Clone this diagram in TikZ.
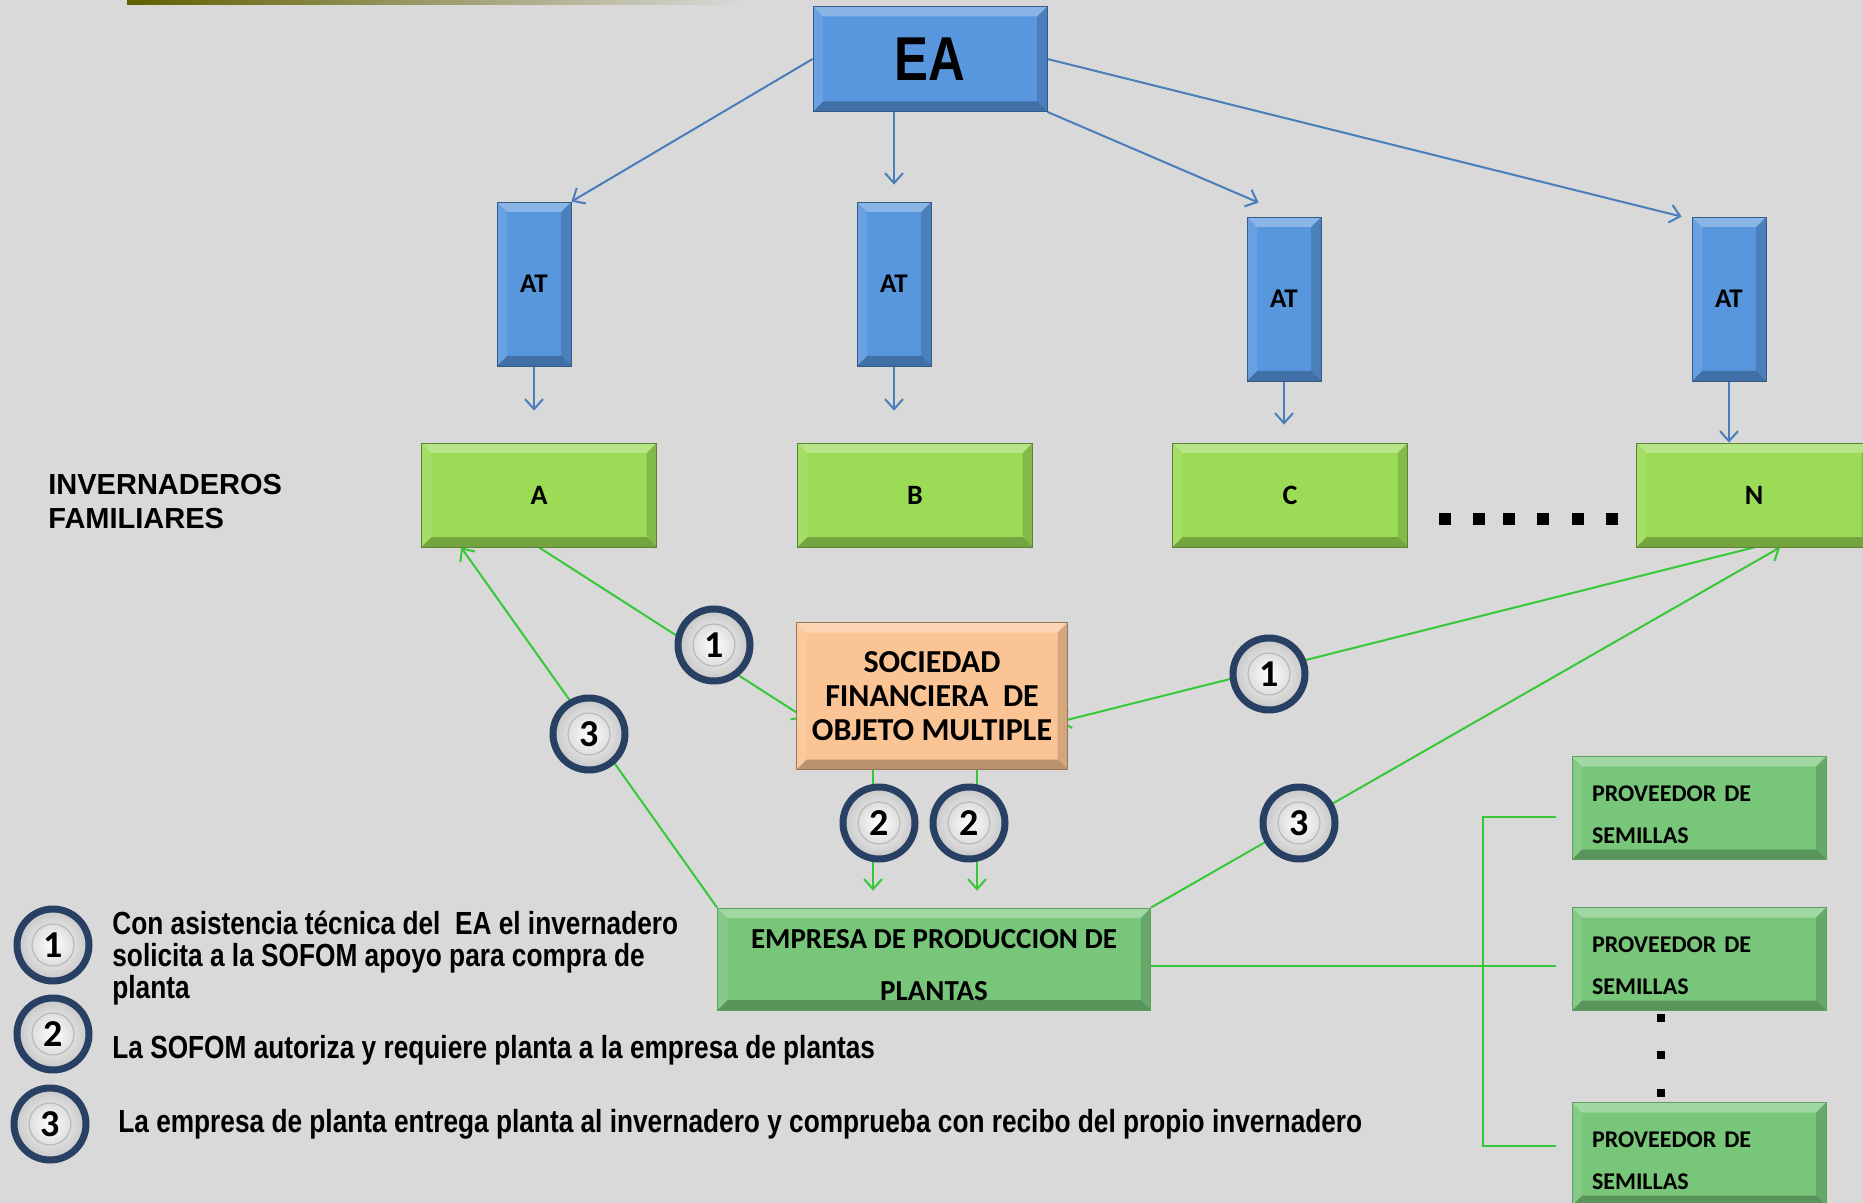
\documentclass[tikz,border=0pt]{standalone}
\usepackage{fontspec}
\setmainfont{Carlito}
\newfontfamily\arialfont{Liberation Sans}
\newfontfamily\narrowfont[FakeStretch=0.82]{Liberation Sans}
\usetikzlibrary{arrows.meta,calc}
\definecolor{bgcol}{RGB}{217,217,217}
\definecolor{eablue}{RGB}{88,150,222}
\definecolor{lineblue}{RGB}{74,126,187}
\definecolor{limegreen}{RGB}{155,219,86}
\definecolor{leafgreen}{RGB}{120,198,122}
\definecolor{peach}{RGB}{250,196,148}
\definecolor{wiregreen}{RGB}{55,200,55}
\definecolor{ringblue}{RGB}{40,64,100}
\definecolor{olivebar}{RGB}{96,96,0}
\pgfdeclarelayer{bg}
\pgfdeclarelayer{wires}
\pgfsetlayers{bg,wires,main}
\tikzset{
  bevel/.style={path picture={
    \fill[white,opacity=.3] (path picture bounding box.north west) -- (path picture bounding box.north east) -- ([shift={(-5pt,-5pt)}]path picture bounding box.north east) -- ([shift={(5pt,-5pt)}]path picture bounding box.north west) -- cycle;
    \fill[black,opacity=.25] (path picture bounding box.south west) -- (path picture bounding box.south east) -- ([shift={(-5pt,5pt)}]path picture bounding box.south east) -- ([shift={(5pt,5pt)}]path picture bounding box.south west) -- cycle;
    \fill[black,opacity=.15] (path picture bounding box.north east) -- (path picture bounding box.south east) -- ([shift={(-5pt,5pt)}]path picture bounding box.south east) -- ([shift={(-5pt,-5pt)}]path picture bounding box.north east) -- cycle;
    \fill[white,opacity=.1] (path picture bounding box.north west) -- (path picture bounding box.south west) -- ([shift={(5pt,5pt)}]path picture bounding box.south west) -- ([shift={(5pt,-5pt)}]path picture bounding box.north west) -- cycle;
  }},
  bluebox/.style={rectangle, inner sep=0pt, fill=eablue, draw=eablue!60!black, bevel},
  atbox/.style={bluebox, minimum width=37pt, minimum height=82pt, font=\bfseries\fontsize{13.5}{15}\selectfont},
  rowbox/.style={rectangle, inner sep=0pt, fill=limegreen, draw=limegreen!60!black, bevel, minimum width=117.5pt, minimum height=52pt, font=\bfseries\fontsize{14}{16}\selectfont},
  leafbox/.style={rectangle, inner sep=0pt, fill=leafgreen, draw=leafgreen!80!black, bevel},
  provbox/.style={leafbox, minimum width=127pt, minimum height=51.5pt, text width=107pt, align=left, font=\bfseries\fontsize{12}{21}\selectfont, execute at begin node={\rule{0pt}{14.5pt}}},
  badge/.style={circle, minimum size=36pt, inner sep=0pt, draw=ringblue, line width=3.5pt, inner color=white, outer color=gray!45, font=\bfseries\fontsize{19}{19}\selectfont,
    path picture={\draw[gray!55,line width=0.6pt] (path picture bounding box.center) circle (10.5pt);}},
  legend/.style={anchor=west, inner sep=0pt, align=left, font=\narrowfont\bfseries\fontsize{16}{16}\selectfont},
  bluewire/.style={draw=lineblue, line width=1pt, -{Straight Barb[length=5pt,width=9pt]}},
  greenwire/.style={draw=wiregreen, line width=1pt, -{Straight Barb[length=5pt,width=9pt]}},
  greenline/.style={draw=wiregreen, line width=1pt}
}
\begin{document}
\begin{tikzpicture}[x=0.5pt,y=-0.5pt]
\useasboundingbox (0,0) rectangle (1863,1203);
\begin{pgfonlayer}{bg}
\fill[bgcol] (0,0) rectangle (1863,1203);
\shade[left color=olivebar, right color=bgcol] (127,0) rectangle (745,5);
\end{pgfonlayer}

\node [bluebox, minimum width=117pt, minimum height=52.5pt, font=\narrowfont\bfseries\fontsize{31}{32}\selectfont] (ea) at (930,59) {EA};
\node [atbox] (at1) at (534,284) {AT};
\node [atbox] (at2) at (894,284) {AT};
\node [atbox] (at3) at (1284,299) {AT};
\node [atbox] (at4) at (1729,299) {AT};

\node [rowbox] (a) at (539,495) {A};
\node [rowbox] (b) at (915,495) {B};
\node [rowbox] (c) at (1290,495) {C};
\node [rowbox] (n) at (1754,495) {N};
\node [anchor=west, inner sep=0pt, align=left, font=\arialfont\bfseries\fontsize{14.5}{17}\selectfont] (inv) at (48,502) {INVERNADEROS\\FAMILIARES};
\foreach \x in {1445,1479,1509,1543,1578,1612}
  \fill (\x-6,513) rectangle ++(12,12);

\node [rectangle, inner sep=0pt, fill=peach, draw=peach!60!black, bevel, minimum width=135.5pt, minimum height=73.5pt, align=center, font=\bfseries\fontsize{16}{17}\selectfont] (sofom) at (932,696) {SOCIEDAD\\FINANCIERA~~DE\\OBJETO MULTIPLE};
\node [leafbox, minimum width=216.5pt, minimum height=51pt, align=center, font=\bfseries\fontsize{14.5}{26}\selectfont] (empresa) at (934,959) {\rule{0pt}{16pt}EMPRESA DE PRODUCCION DE\\PLANTAS};
\node [provbox] (prov1) at (1699,808) {PROVEEDOR DE\\SEMILLAS};
\node [provbox] (prov2) at (1699,959) {PROVEEDOR DE\\SEMILLAS};
\node [provbox] (prov3) at (1699,1154) {PROVEEDOR DE\\SEMILLAS};
\foreach \y in {1018,1055,1093}
  \fill (1657,\y-4) rectangle ++(8,8);

\node [badge] (s1a) at (714,645) {1};
\node [badge] (s1b) at (1269,674) {1};
\node [badge] (s2a) at (879,823) {2};
\node [badge] (s2b) at (969,823) {2};
\node [badge] (s3a) at (589,734) {3};
\node [badge] (s3b) at (1299,823) {3};

\node [badge] (k1) at (53,945) {1};
\node [badge] (k2) at (53,1034) {2};
\node [badge] (k3) at (50,1124) {3};
\node [legend] (t1) at (112,958) {Con asistencia técnica del~~EA el invernadero\\solicita a la SOFOM apoyo para compra de\\planta};
\node [legend] (t2) at (112,1050) {La SOFOM autoriza y requiere planta a la empresa de plantas};
\node [legend] (t3) at (118,1124) {La empresa de planta entrega planta al invernadero y comprueba con recibo del propio invernadero};

\begin{pgfonlayer}{wires}
\draw [bluewire] (ea.west) -- (at1.north east);
\draw [bluewire] (ea.south -| at2.north) -- ($(at2.north)+(0,-17)$);
\draw [bluewire] (ea.south east) -- ($(at3.north west)+(12,-14)$);
\draw [bluewire] (ea.east) -- ($(at4.north west)+(-10,0)$);
\draw [bluewire] (at1.south) -- ($(at1.south |- a.north)+(0,-32)$);
\draw [bluewire] (at2.south) -- ($(at2.south |- b.north)+(0,-32)$);
\draw [bluewire] (at3.south) -- ($(at3.south |- c.north)+(0,-18)$);
\draw [bluewire] (at4.south) -- (at4.south |- n.north);

\draw [greenwire] (a.south) -- ($(sofom.west)+(9,22)$);
\draw [greenwire] (n.south) -- ($(sofom.east)+(-9,26)$);
\draw [greenwire] ($(sofom.south -| s2a)+(-6,0)$) -- ($(empresa.north -| s2a)+(-6,-17)$);
\draw [greenwire] ($(sofom.south -| s2b)+(8,0)$) -- ($(empresa.north -| s2b)+(8,-17)$);
\draw [greenwire] (empresa.north west) -- ($(a.south west)+(40,0)$);
\draw [greenwire] (empresa.north east) -- ($(n.south)+(26,0)$);
\draw [greenline] ($(empresa.east)+(0,7)$) -- ($(prov2.west)+(-16,7)$);
\draw [greenline] ($(prov1.west)+(-16,9)$) -- ($(prov1.west)+(-89,9)$) -- ($(prov3.west)+(-89,-8)$) -- ($(prov3.west)+(-16,-8)$);
\end{pgfonlayer}
\end{tikzpicture}
\end{document}
